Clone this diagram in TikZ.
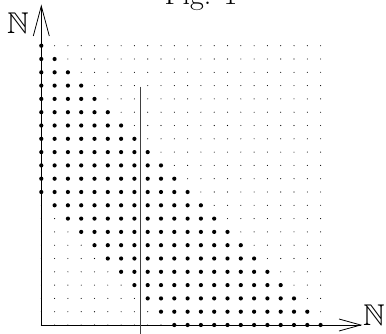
\documentclass[tikz,border=0pt]{standalone}
\usepackage{amssymb}
\begin{document}
\begin{tikzpicture}[x=1pt,y=1pt,
  axisline/.style={line width=0.8pt, black},
  cutline/.style={line width=0.8pt, black!75},
  lbl/.style={inner sep=0pt, font=\fontsize{30}{36}\selectfont}]
\useasboundingbox (0,0) rectangle (386,333);
\def\ox{41.3}\def\oy{8}\def\s{13.3}
% small dots
\foreach \i in {0,...,21}{\foreach \j in {0,...,21}{
  \pgfmathtruncatemacro\sm{\i+\j}
  \ifnum\sm<10 \fill (\ox+\i*\s,\oy+\j*\s) circle (0.55);\fi
  \ifnum\sm>21 \fill (\ox+\i*\s,\oy+\j*\s) circle (0.55);\fi
}}
% axes
\coordinate (O) at (\ox,\oy);
\coordinate (xt) at (360.7,\oy);
\coordinate (yt) at (\ox,327);
\coordinate (xw1) at (339,\oy+6);
\coordinate (xw2) at (339,\oy-6);
\coordinate (yw1) at (\ox-8,297);
\coordinate (yw2) at (\ox+8,297);
\draw[axisline] (O) -- (xt);
\draw[axisline] (O) -- (yt);
\draw[axisline] (xw1) -- (xt) -- (xw2);
\draw[axisline] (yw1) -- (yt) -- (yw2);
% vertical cut line
\coordinate (ct) at (140,246.3);
\coordinate (cb) at (140,-2);
\draw[cutline] (ct) -- (cb);
% big dots
\foreach \i in {0,...,21}{\foreach \j in {0,...,21}{
  \pgfmathtruncatemacro\sm{\i+\j}
  \ifnum\sm>9 \ifnum\sm<22 \fill (\ox+\i*\s,\oy+\j*\s) circle (2.1);\fi\fi
}}
% labels
\node[lbl, anchor=base west] (ny) at (7,300) {$\mathbb{N}$};
\node[lbl, anchor=base west] (nx) at (363,8) {$\mathbb{N}$};
\node[lbl, anchor=base] (title) at (201,328) {Fig. 1};
\end{tikzpicture}
\end{document}
